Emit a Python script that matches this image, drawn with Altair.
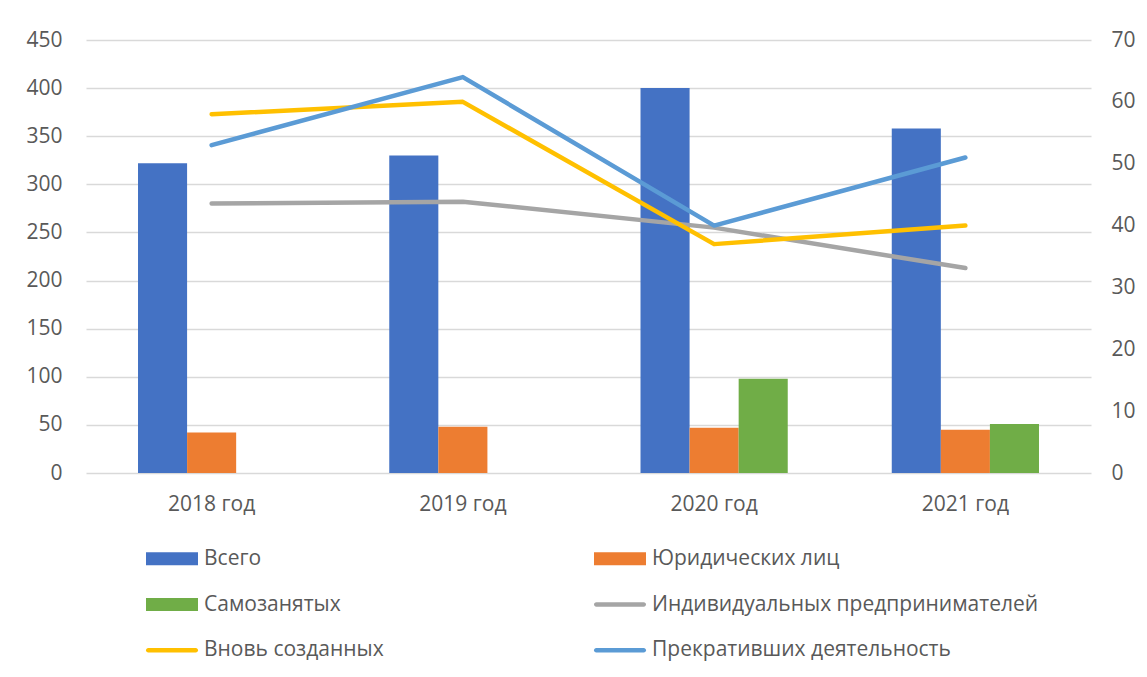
import altair as alt
import pandas as pd

# ---- data ----
years = ["2018 год", "2019 год", "2020 год", "2021 год"]
vsego = [322, 330, 400, 358]
yur_lic = [42, 48, 47, 45]
samozan = [None, None, 98, 51]
ip = [280, 282, 255, 213]
vnov = [58, 60, 37, 40]
prekr = [53, 64, 40, 51]

bar_names = ["Всего", "Юридических лиц", "Самозанятых"]
line_left_name = "Индивидуальных предпринимателей"
line_right_names = ["Вновь созданных", "Прекративших деятельность"]
all_names = bar_names + [line_left_name] + line_right_names
colors = ["#4472C4", "#ED7D31", "#70AD47", "#A5A5A5", "#FFC000", "#5B9BD5"]

legend_names = ["Всего", "Юридических лиц", "Самозанятых",
                "Индивидуальных предпринимателей", "Вновь созданных",
                "Прекративших деятельность"]
legend_kind = ["bar", "bar", "bar", "line", "line", "line"]
legend_row = [0, 0, 1, 1, 2, 2]
legend_col = [0, 1, 0, 1, 0, 1]

# ---- tables ----
bar_rows = []
for series, vals in zip(bar_names, [vsego, yur_lic, samozan]):
    for y, v in zip(years, vals):
        if v is not None:
            bar_rows.append({"year": y, "series": series, "value": v})
bars_df = pd.DataFrame(bar_rows)

ip_df = pd.DataFrame({"year": years, "series": line_left_name, "value": ip})

rl_rows = []
for series, vals in zip(line_right_names, [vnov, prekr]):
    for y, v in zip(years, vals):
        rl_rows.append({"year": y, "series": series, "value": v})
right_df = pd.DataFrame(rl_rows)

leg_df = pd.DataFrame({"name": legend_names, "kind": legend_kind,
                       "row": legend_row, "col": legend_col})

FONT = "Open Sans"
TXT = "#595959"
GRID = "#D9D9D9"
FS = 21

color_scale = alt.Scale(domain=all_names, range=colors)

x_enc = alt.X("year:N", sort=years, title=None,
              scale=alt.Scale(paddingInner=0.414, paddingOuter=0.207),
              axis=alt.Axis(labelAngle=0, ticks=False, domain=False,
                            labelPadding=20, labelFontSize=FS,
                            labelColor=TXT, labelFont=FONT))

left_scale = alt.Scale(domain=[0, 450])
left_axis = alt.Axis(values=list(range(0, 451, 50)), ticks=False, domain=False,
                     grid=True, gridColor=GRID, gridWidth=1.5,
                     labelPadding=24, labelFontSize=FS, labelColor=TXT,
                     labelFont=FONT, minExtent=73)
right_axis = alt.Axis(values=list(range(0, 71, 10)), ticks=False, domain=False,
                      grid=False, orient="right", labelPadding=20,
                      labelFontSize=FS, labelColor=TXT, labelFont=FONT)

bars = alt.Chart(bars_df).mark_bar().encode(
    x=x_enc,
    xOffset=alt.XOffset("series:N", sort=bar_names,
                        scale=alt.Scale(domain=bar_names, paddingInner=0,
                                        paddingOuter=0)),
    y=alt.Y("value:Q", scale=left_scale, axis=left_axis, title=None),
    color=alt.Color("series:N", scale=color_scale, legend=None),
)

grey_line = alt.Chart(ip_df).mark_line(strokeWidth=4.5, strokeCap="round",
                                       strokeJoin="round").encode(
    x=alt.X("year:N", sort=years),
    y=alt.Y("value:Q", scale=left_scale),
    color=alt.Color("series:N", scale=color_scale, legend=None),
)

left_layer = alt.layer(bars, grey_line)

right_layer = alt.Chart(right_df).mark_line(strokeWidth=4.5, strokeCap="round",
                                            strokeJoin="round").encode(
    x=alt.X("year:N", sort=years),
    y=alt.Y("value:Q", scale=alt.Scale(domain=[0, 70]), axis=right_axis,
            title=None),
    color=alt.Color("series:N", scale=color_scale, legend=None),
    order=alt.Order("series:N", sort="ascending"),
)

main = alt.layer(left_layer, right_layer).resolve_scale(
    y="independent").properties(width=1005, height=433)

# ---- custom legend (2 columns x 3 rows) ----
lx = alt.X("col:O", scale=alt.Scale(type="point", range=[86, 534], padding=0),
           axis=None)
ly = alt.Y("row:O", scale=alt.Scale(type="point", padding=0.5), axis=None)

leg_base = alt.Chart(leg_df)
leg_bars = leg_base.transform_filter(alt.datum.kind == "bar").mark_tick(
    orient="horizontal", size=52, thickness=13, opacity=1).encode(
    x=lx, y=ly,
    color=alt.Color("name:N", scale=color_scale, legend=None))
leg_lines = leg_base.transform_filter(alt.datum.kind == "line").mark_tick(
    orient="horizontal", size=52, thickness=4.5, cornerRadius=2.25,
    opacity=1).encode(
    x=lx, y=ly,
    color=alt.Color("name:N", scale=color_scale, legend=None))
leg_text = leg_base.mark_text(align="left", baseline="middle", dx=32,
                              fontSize=FS, font=FONT, color=TXT).encode(
    x=lx, y=ly, text="name:N")

legend = alt.layer(leg_bars, leg_lines, leg_text).properties(width=1005,
                                                             height=137)

chart = alt.vconcat(main, legend, spacing=22).properties(
    padding={"left": 5, "top": 21, "right": 0, "bottom": 0}
).configure(font=FONT).configure_view(stroke=None)

chart.save("out.html", embed_options={"renderer": "svg", "actions": False})
